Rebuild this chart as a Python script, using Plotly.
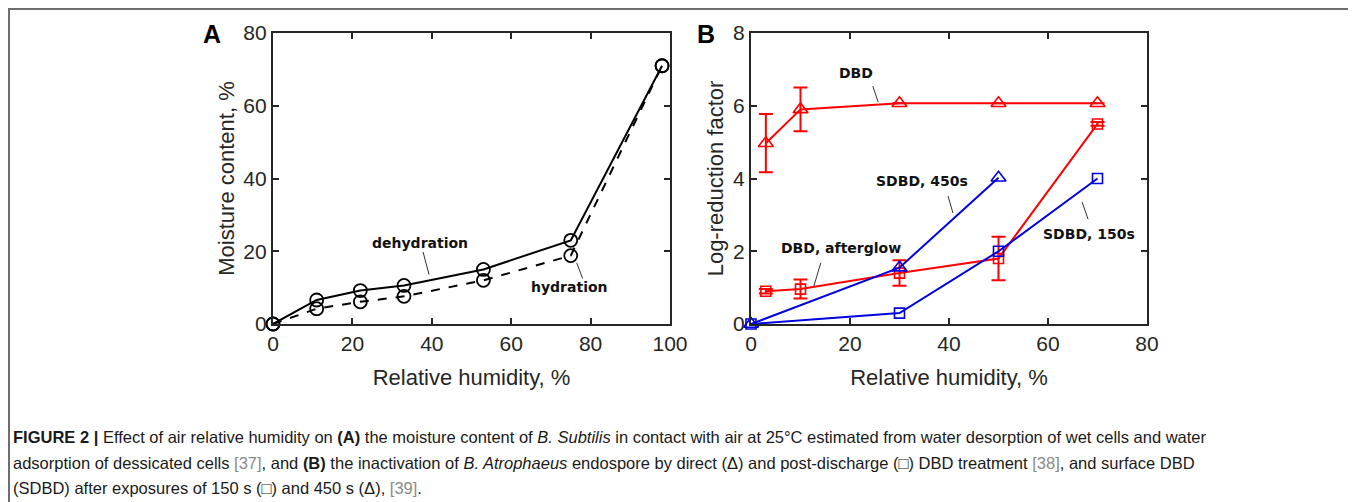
import plotly.graph_objects as go

OFF = 8                      # page body margin of the browser
W, H = 1356 - OFF, 502 - OFF

# ---------------- data ----------------
# Panel A: moisture content vs relative humidity
rh_a = [0, 11, 22, 33, 53, 75, 98]
dehydration = [0, 6.6, 9.2, 10.6, 15.0, 23.0, 71.0]
hydration = [0, 4.2, 6.1, 7.6, 12.0, 18.8, 71.0]

# Panel B: log-reduction factor vs relative humidity
rh_dbd = [3, 10, 30, 50, 70]
dbd = [4.97, 5.9, 6.07, 6.07, 6.07]
dbd_err = [0.8, 0.6, 0, 0, 0]

rh_after = [3, 10, 30, 50, 70]
afterglow = [0.9, 0.96, 1.4, 1.8, 5.5]
afterglow_err = [0.06, 0.26, 0.35, 0.6, 0.05]

rh_150 = [0, 30, 50, 70]
sdbd_150 = [0, 0.3, 2.0, 4.0]

rh_450 = [0, 30, 50]
sdbd_450 = [0, 1.55, 4.02]

xticks_a = [0, 20, 40, 60, 80, 100]
yticks_a = [0, 20, 40, 60, 80]
xticks_b = [0, 20, 40, 60, 80]
yticks_b = [0, 2, 4, 6, 8]

# ---------------- figure ----------------
def px_x(p):
    return (p - OFF) / W

def px_y(p):
    return 1 - (p - OFF) / H

RED = "#ff0000"
BLUE = "#0000e0"
AXC = "#262626"

fig = go.Figure()

fig.add_trace(go.Scatter(
    x=rh_a, y=dehydration, mode="lines+markers", name="dehydration",
    line=dict(color="black", width=2),
    marker=dict(symbol="circle-open", size=13, color="black", line=dict(width=1.8)),
    cliponaxis=False, xaxis="x", yaxis="y"))
fig.add_trace(go.Scatter(
    x=rh_a, y=hydration, mode="lines+markers", name="hydration",
    line=dict(color="black", width=2, dash="dash"),
    marker=dict(symbol="circle-open", size=13, color="black", line=dict(width=1.8)),
    cliponaxis=False, xaxis="x", yaxis="y"))

fig.add_trace(go.Scatter(
    x=rh_dbd, y=dbd, mode="lines+markers", name="DBD",
    line=dict(color=RED, width=2),
    marker=dict(symbol="triangle-up-open", size=13, color=RED, line=dict(width=1.6)),
    error_y=dict(type="data", array=dbd_err, color=RED, thickness=2, width=7),
    cliponaxis=False, xaxis="x2", yaxis="y2"))
fig.add_trace(go.Scatter(
    x=rh_after, y=afterglow, mode="lines+markers", name="DBD, afterglow",
    line=dict(color=RED, width=2),
    marker=dict(symbol="square-open", size=10, color=RED, line=dict(width=1.6)),
    error_y=dict(type="data", array=afterglow_err, color=RED, thickness=2, width=7),
    cliponaxis=False, xaxis="x2", yaxis="y2"))
fig.add_trace(go.Scatter(
    x=rh_150, y=sdbd_150, mode="lines+markers", name="SDBD, 150s",
    line=dict(color=BLUE, width=2),
    marker=dict(symbol="square-open", size=10, color=BLUE, line=dict(width=1.6)),
    cliponaxis=False, xaxis="x2", yaxis="y2"))
fig.add_trace(go.Scatter(
    x=rh_450, y=sdbd_450, mode="lines+markers", name="SDBD, 450s",
    line=dict(color=BLUE, width=2),
    marker=dict(symbol="triangle-up-open", size=13, color=BLUE, line=dict(width=1.6)),
    cliponaxis=False, xaxis="x2", yaxis="y2"))

tickfont = dict(family="Liberation Sans, Arial, sans-serif", size=21, color=AXC)
titlefont = dict(family="Liberation Sans, Arial, sans-serif", size=22, color=AXC)

def axis(dom, rng, ticks, title, standoff):
    return dict(domain=dom, range=rng, tickvals=ticks, ticks="inside", ticklen=6,
                tickwidth=1.5, tickcolor=AXC, showline=True, linecolor=AXC, linewidth=2.2,
                mirror="ticks", showgrid=False, zeroline=False, tickfont=tickfont,
                automargin=False,
                title=dict(text=title, font=titlefont, standoff=standoff))

ydom = [px_y(324), px_y(33)]
fig.update_layout(
    width=W, height=H, margin=dict(l=0, r=0, t=0, b=0, autoexpand=False),
    paper_bgcolor="white", plot_bgcolor="white", showlegend=False,
    xaxis=dict(**axis([px_x(273), px_x(670)], [0, 100], xticks_a, "Relative humidity, %", 15), anchor="y"),
    yaxis=dict(**axis(ydom, [0, 80], yticks_a, "Moisture content, %", 3), anchor="x"),
    xaxis2=dict(**axis([px_x(751), px_x(1147)], [0, 80], xticks_b, "Relative humidity, %", 15), anchor="y2"),
    yaxis2=dict(**axis(ydom, [0, 8], yticks_b, "Log-reduction factor", 3), anchor="x2"),
)

# outer frame
fig.add_shape(type="rect", xref="paper", yref="paper",
              x0=px_x(9), x1=px_x(1353), y0=px_y(530), y1=px_y(9),
              line=dict(color="#6e6e6e", width=2))

# panel letters
for letter, xp in (("A", 212), ("B", 706)):
    fig.add_annotation(text="<b>" + letter + "</b>", xref="paper", yref="paper",
                       x=px_x(xp), y=px_y(34), xanchor="center", yanchor="middle",
                       showarrow=False,
                       font=dict(family="Liberation Sans, Arial", size=25, color="black"))

labfont = dict(family="DejaVu Sans, Verdana, sans-serif", size=14, color="#111111")

# panel A labels + leaders
fig.add_annotation(text="<b>dehydration</b>", x=37, y=22.2, xref="x", yref="y",
                   showarrow=False, font=labfont)
fig.add_shape(type="line", xref="x", yref="y", x0=37.8, y0=19.8, x1=39.3, y1=13.6,
              line=dict(color="#333333", width=1))
fig.add_annotation(text="<b>hydration</b>", x=74.8, y=10.2, xref="x", yref="y",
                   showarrow=False, font=labfont)
fig.add_shape(type="line", xref="x", yref="y", x0=76.5, y0=16.8, x1=78.0, y1=12.5,
              line=dict(color="#333333", width=1))

# panel B labels + leaders
for txt, x, y in (("DBD", 21.2, 6.9), ("SDBD, 450s", 34.5, 3.92),
                  ("DBD, afterglow", 18.2, 2.09), ("SDBD, 150s", 68.3, 2.47)):
    fig.add_annotation(text="<b>" + txt + "</b>", x=x, y=y, xref="x2", yref="y2",
                       showarrow=False, font=labfont)
for x0, y0, x1, y1 in ((24.6, 6.54, 25.7, 6.1), (39.8, 3.52, 40.8, 3.05),
                       (14.1, 1.68, 12.7, 1.04), (66.9, 3.35, 68.1, 2.88)):
    fig.add_shape(type="line", xref="x2", yref="y2", x0=x0, y0=y0, x1=x1, y1=y1,
                  line=dict(color="#333333", width=1))

# caption
gray = "<span style='color:#8a8a8a'>"
cap_lines = [
    "<b>FIGURE 2 |</b> Effect of air relative humidity on <b>(A)</b> the moisture content of <i>B. Subtilis</i> "
    "in contact with air at 25°C estimated from water desorption of wet cells and water",
    "adsorption of dessicated cells " + gray + "[37]</span>, and <b>(B)</b> the inactivation of <i>B. Atrophaeus</i> "
    "endospore by direct (Δ) and post-discharge (□) DBD treatment " + gray + "[38]</span>, and surface DBD",
    "(SDBD) after exposures of 150 s (□) and 450 s (Δ), " + gray + "[39]</span>.",
]
for i, line in enumerate(cap_lines):
    fig.add_annotation(text=line, xref="paper", yref="paper", x=px_x(11), y=px_y(437 + 25.5 * i),
                       xanchor="left", yanchor="middle", showarrow=False, align="left",
                       font=dict(family="Liberation Sans Narrow, Liberation Sans, Arial", size=16.5,
                                 color="#1a1a1a"))

fig.write_html("out.html")
